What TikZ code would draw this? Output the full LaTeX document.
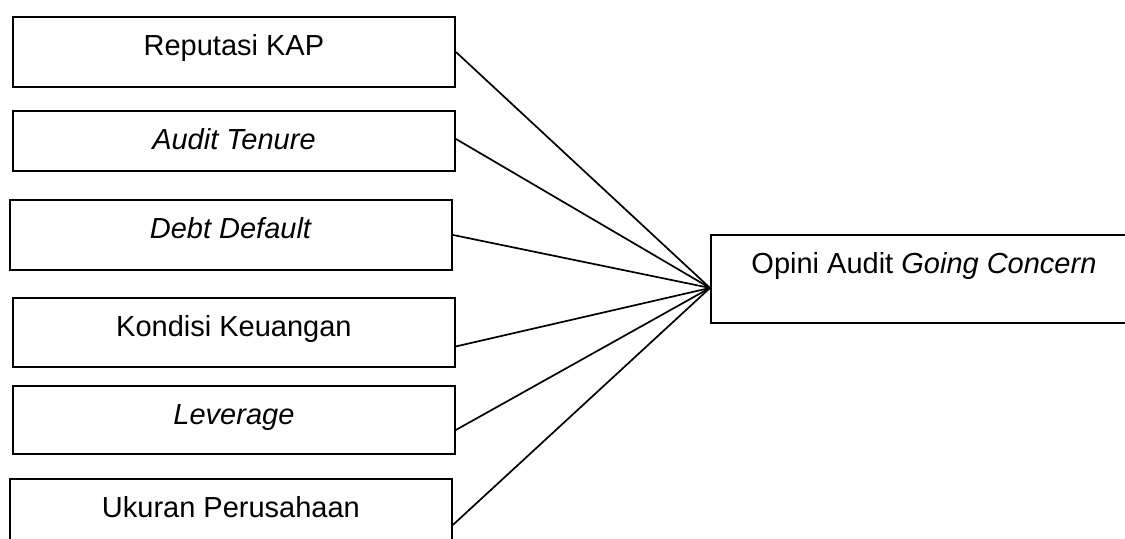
\documentclass[tikz,border=0pt]{standalone}
\usepackage{fontspec}
\setmainfont{Liberation Sans}
\usetikzlibrary{positioning}

\begin{document}
\begin{tikzpicture}[
  x=0.5pt, y=-0.5pt,
  every node/.style={font=\fontsize{14.5}{17}\selectfont},
  var/.style={draw, line width=0.95pt, anchor=north west, inner sep=0pt,
    minimum width=221pt, text height=19.5pt, text depth=15.5pt},
  dep/.style={var, minimum width=213pt, text depth=24.5pt},
  link/.style={line width=0.85pt}]

\useasboundingbox (0,0) rectangle (1125,539);
\clip (0,0) rectangle (1125,539);

% independent variables
\node[var] (kap) at (12,16) {Reputasi KAP};
\node[var, text depth=10.5pt] (tenure) at (12,110) {\textit{Audit Tenure}};
\node[var] (debt) at (9,199) {\textit{Debt Default}};
\node[var, text depth=15pt] (kondisi) at (12,297) {Kondisi Keuangan};
\node[var, text depth=14.5pt] (lev) at (12,385) {\textit{Leverage}};
\node[var] (ukuran) at (9,478) {Ukuran Perusahaan};

% dependent variable
\node[dep] (opini) at (710,234) {Opini Audit \textit{Going Concern}};
\coordinate (hub) at ([yshift=-4.5pt]opini.west);

\foreach \v/\s in {kap/0, tenure/1, debt/0, kondisi/-7, lev/-5, ukuran/-5.5}
  \draw[link] ([yshift=\s pt]\v.east) -- (hub);

\end{tikzpicture}
\end{document}
